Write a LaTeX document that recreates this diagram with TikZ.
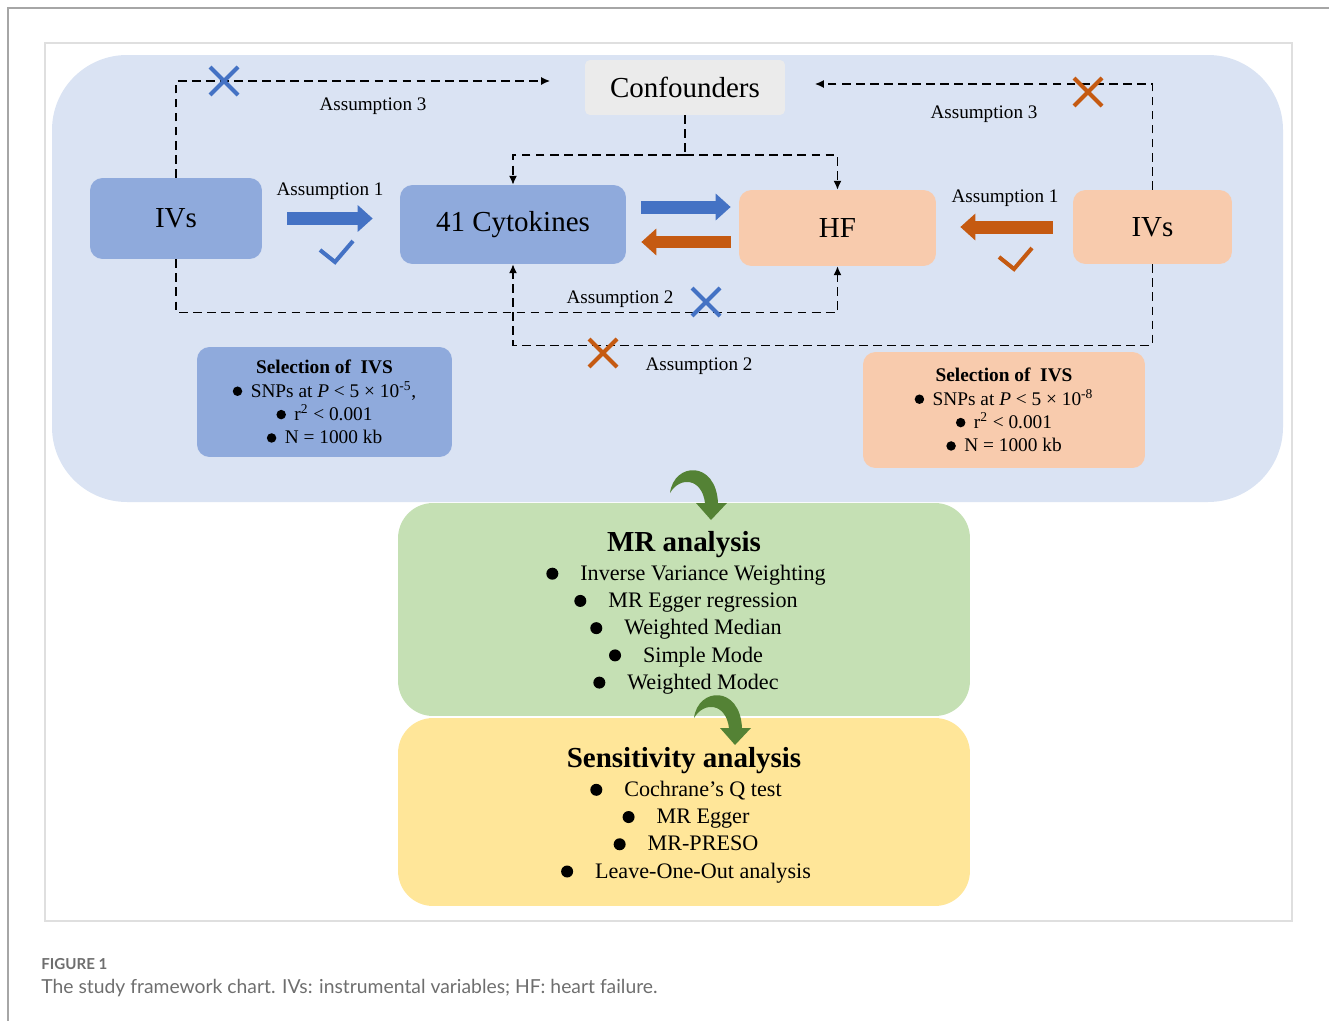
\documentclass[tikz,border=0pt]{standalone}
\usepackage{fontspec}
\setmainfont{Liberation Serif}
\newfontfamily\capfont{Lato}
\usepackage{tikz}
\usetikzlibrary{arrows.meta,positioning,calc}

\definecolor{bgblue}{HTML}{DAE3F3}
\definecolor{boxblue}{HTML}{8FAADC}
\definecolor{boxorange}{HTML}{F8CBAD}
\definecolor{boxgray}{HTML}{EBEBEB}
\definecolor{boxgreen}{HTML}{C5E0B4}
\definecolor{boxyellow}{HTML}{FFE699}
\definecolor{darkblue}{HTML}{4472C4}
\definecolor{darkorange}{HTML}{C55A11}
\definecolor{darkgreen}{HTML}{548235}
\definecolor{capgray}{HTML}{6E6E6E}

% marks and the green turn arrows
\newcommand{\drawcross}[3]{\draw[#3, line width=2.3pt, shift={(#1,#2)}] (-14,-14) -- (14,14) (14,-14) -- (-14,14);}
\newcommand{\drawcheck}[3]{\draw[#3, line width=2.3pt, shift={(#1,#2)}] (-16,-2) -- (-1,10) -- (17,-11);}
\newcommand{\greenturn}[2]{\fill[darkgreen, shift={(#1,#2)}] (0,23) .. controls (4,-8) and (46,-10) .. (48,33) -- (57,33) -- (41,50) -- (26,33) -- (35,33) .. controls (32,8) and (10,6) .. (0,23) -- cycle;}
\newcommand{\bigdot}[1]{\tikz[baseline=-0.3em]\fill[black] (0,0) circle (#1);}
% bullet plus gap, balanced on the right so the words stay centred
\newcommand{\mritem}[1]{\bigdot{0.12cm}\hspace{0.44cm}#1\hphantom{\bigdot{0.12cm}\hspace{0.44cm}}}
\newcommand{\selitem}{\bigdot{0.095cm}\hspace{0.17cm}}

\begin{document}
\begin{tikzpicture}[
    x=0.02cm, y=-0.02cm,
    bluebox/.style={rectangle, fill=boxblue, rounded corners=0.25cm, text centered},
    orangebox/.style={rectangle, fill=boxorange, rounded corners=0.25cm, text centered},
    bigtext/.style={font=\fontsize{16.5}{20}\selectfont},
    seltext/.style={font=\fontsize{11}{13.3}\selectfont, align=center, inner sep=0pt},
    asmtext/.style={font=\fontsize{10.9}{13}\selectfont},
    itemtext/.style={font=\fontsize{12.6}{15.5}\selectfont, align=center, inner sep=0pt},
    titletext/.style={font=\fontsize{16.5}{20}\selectfont\bfseries, inner sep=0pt},
    dashline/.style={dash pattern=on 5pt off 3pt, line width=0.7pt},
    dasharrow/.style={dashline, -{Latex[length=5pt,width=4.5pt]}},
    fatblue/.style={line width=0.26cm, darkblue, -{Triangle[length=0.3cm,width=0.52cm]}},
    fatorange/.style={line width=0.26cm, darkorange, -{Triangle[length=0.3cm,width=0.52cm]}}
]
\useasboundingbox (0,0) rectangle (1329,1021);

% frames
\draw[gray!70, line width=0.6pt] (1329,8) -- (8,8) -- (8,1021);
\draw[gray!25, line width=0.6pt] (45,43) rectangle (1292,921);
\fill[bgblue, rounded corners=1.5cm] (52,55) rectangle (1283,502);

% top part
\node[fill=boxgray, rounded corners=0.1cm, minimum width=4cm, minimum height=1.1cm, bigtext] (conf) at (685,87.5) {Confounders};
\node[bluebox, bigtext, minimum width=3.44cm, minimum height=1.62cm] (ivl) at (176,218.5) {IVs};
\node[bluebox, bigtext, minimum width=4.52cm, minimum height=1.58cm] (cyto) at (513,224.5) {41 Cytokines};
\node[orangebox, bigtext, minimum width=3.94cm, minimum height=1.52cm] (hf) at (837.5,228) {HF};
\node[orangebox, bigtext, minimum width=3.18cm, minimum height=1.48cm] (ivr) at (1152.5,227) {IVs};

\node[bluebox, seltext, minimum width=5.1cm, minimum height=2.2cm] (sell) at (324.5,402)
  {\textbf{Selection of\ \ IVS}\\\selitem SNPs at \textit{P} < 5 × 10\textsuperscript{-5},\\\selitem r\textsuperscript{2} < 0.001\\\selitem N = 1000 kb};
\node[orangebox, seltext, minimum width=5.64cm, minimum height=2.32cm] (selr) at (1004,410)
  {\textbf{Selection of\ \ IVS}\\\selitem SNPs at \textit{P} < 5 × 10\textsuperscript{-8}\\\selitem r\textsuperscript{2} < 0.001\\\selitem N = 1000 kb};

% assumption 1
\draw[fatblue, shorten <=0.5cm, shorten >=0.54cm] (ivl.east) -- (ivl.east -| cyto.west);
\draw[fatblue, shorten <=0.3cm, shorten >=0.16cm] ([yshift=0.35cm]cyto.east) -- ([yshift=0.35cm]cyto.east -| hf.west);
\draw[fatorange, shorten <=0.16cm, shorten >=0.3cm] ([yshift=-0.35cm]cyto.east -| hf.west) -- ([yshift=-0.35cm]cyto.east);
\draw[fatorange, shorten <=0.4cm, shorten >=0.48cm] (ivr.west) -- (ivr.west -| hf.east);
\node[asmtext] (a1l) at (330,191) {Assumption 1};
\node[asmtext] (a1r) at (1005,198) {Assumption 1};
\drawcheck{336}{252}{darkblue}
\drawcheck{1015}{259}{darkorange}

% assumption 3
\coordinate (a3l) at (550,81);
\coordinate (a3r) at (815,84);
\draw[dasharrow] (ivl.north) |- (a3l);
\draw[dasharrow] (ivr.north) |- (a3r);
\node[asmtext] (a3ltext) at (373,106) {Assumption 3};
\node[asmtext] (a3rtext) at (984,114) {Assumption 3};
\drawcross{224}{81}{darkblue}
\drawcross{1088}{92}{darkorange}

% confounders
\coordinate (split) at (685,155);
\draw[dashline] (conf.south) -- (split);
\draw[dasharrow] (split) -| (cyto.north);
\draw[dasharrow] (split) -| (hf.north);

% assumption 2
\draw[dasharrow] (ivl.south) -- ++(0,53) -| (hf.south);
\draw[dasharrow] (ivr.south) -- ++(0,81) -| (cyto.south);
\node[asmtext] (a2ltext) at (620,299) {Assumption 2};
\node[asmtext] (a2rtext) at (699,366) {Assumption 2};
\drawcross{706}{302}{darkblue}
\drawcross{603}{353}{darkorange}

% MR analysis
\node[fill=boxgreen, rounded corners=0.7cm, minimum width=11.44cm, minimum height=4.26cm] (mrbox) at (684,609.5) {};
\node[titletext] (mrtitle) at (684,545) {MR analysis};
\node[itemtext] (mritems) at (703,629.5)
  {\mritem{Inverse Variance Weighting}\\\mritem{MR Egger regression}\\\mritem{Weighted Median}\\\mritem{Simple Mode}\\\mritem{Weighted Modec}};

% sensitivity analysis
\node[fill=boxyellow, rounded corners=0.7cm, minimum width=11.44cm, minimum height=3.76cm] (sensbox) at (684,812) {};
\node[titletext] (senstitle) at (684,761) {Sensitivity analysis};
\node[itemtext] (sensitems) at (703,832)
  {\mritem{Cochrane's Q test}\\\mritem{MR Egger}\\\mritem{MR-PRESO}\\\mritem{Leave-One-Out analysis}};

\greenturn{670}{470}
\greenturn{694}{695}

% caption
\node[anchor=west, inner sep=0pt, text=capgray, font=\capfont\bfseries\fontsize{8.6}{10}\selectfont] (figlabel) at (41,964) {FIGURE 1};
\node[anchor=west, inner sep=0pt, text=capgray, font=\capfont\fontsize{11}{13}\selectfont] (figcap) at (41,988) {The study framework chart. IVs: instrumental variables; HF: heart failure.};
\end{tikzpicture}
\end{document}
